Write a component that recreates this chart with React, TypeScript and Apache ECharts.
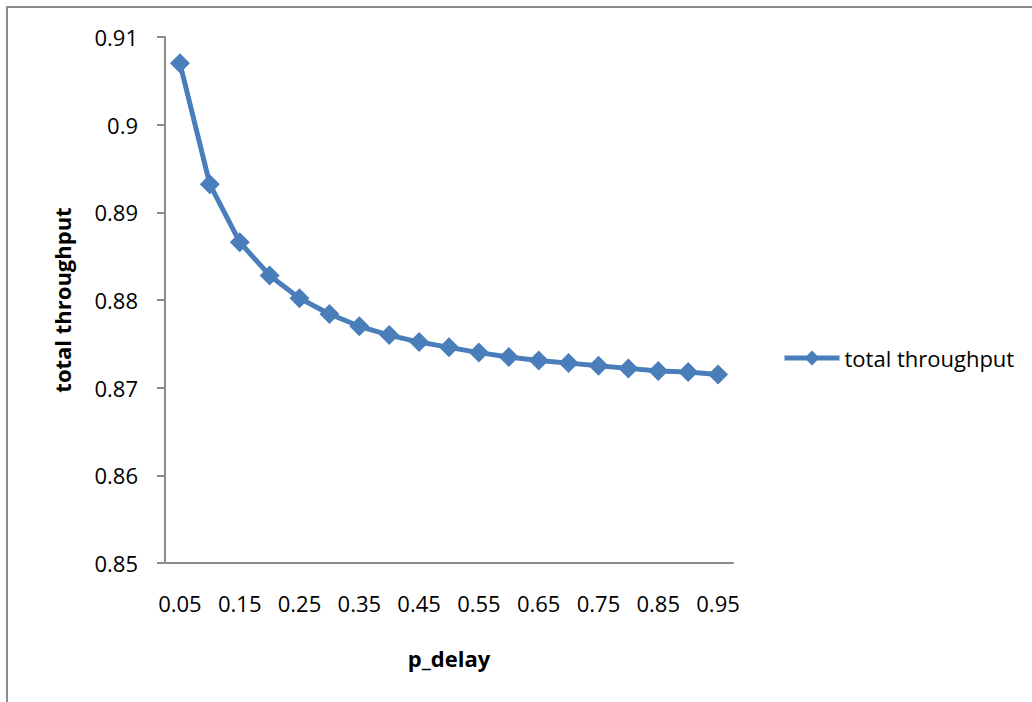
import React, { useEffect, useRef } from "react";
import * as echarts from "echarts";

const categories = ["0.05","0.1","0.15","0.2","0.25","0.3","0.35","0.4","0.45","0.5","0.55","0.6","0.65","0.7","0.75","0.8","0.85","0.9","0.95"];
const categoryLabels = ["0.05","0.10","0.15","0.20","0.25","0.30","0.35","0.40","0.45","0.50","0.55","0.60","0.65","0.70","0.75","0.80","0.85","0.90","0.95"];
const throughput = [0.9070,0.8932,0.8866,0.8828,0.8802,0.8784,0.8770,0.8760,0.8752,0.8746,0.8740,0.8735,0.8731,0.8728,0.8725,0.8722,0.8719,0.8718,0.8715];
const seriesName = "total throughput";
const xName = "p_delay";
const yName = "total throughput";

const FONT = "'Open Sans', sans-serif";
const BLUE = "#4a7ebb";

export default function App() {
  const ref = useRef<HTMLDivElement>(null);
  useEffect(() => {
    document.body.style.margin = "0";
    const chart = echarts.init(ref.current!, null, { renderer: "svg" });
    chart.setOption({
      animation: false,
      backgroundColor: "#ffffff",
      textStyle: { fontFamily: FONT },
      graphic: [
        {
          type: "rect",
          shape: { x: 7, y: 7, width: 1200, height: 900 },
          style: { fill: "none", stroke: "#8c8c8c", lineWidth: 2 },
          silent: true,
        },
      ],
      grid: { left: 165, top: 37, right: 299, bottom: 139 },
      legend: {
        left: 777,
        top: 342,
        itemWidth: 55,
        itemHeight: 19,
        itemGap: 5,
        lineStyle: { width: 5, color: BLUE },
        textStyle: { fontFamily: FONT, fontSize: 22, color: "#000" },
        data: [seriesName],
      },
      xAxis: {
        type: "category",
        data: categories,
        boundaryGap: true,
        name: xName,
        nameLocation: "middle",
        nameGap: 84,
        nameTextStyle: { fontFamily: FONT, fontSize: 22, fontWeight: "bold", color: "#000" },
        axisLine: { lineStyle: { color: "#8c8c8c", width: 2 } },
        axisTick: { show: false },
        axisLabel: {
          interval: 1,
          margin: 29,
          fontFamily: FONT,
          fontSize: 22,
          color: "#000",
          formatter: (v: string, i: number) => categoryLabels[i],
        },
        splitLine: { show: false },
      },
      yAxis: {
        type: "value",
        min: 0.85,
        max: 0.91,
        interval: 0.01,
        name: yName,
        nameLocation: "middle",
        nameGap: 92,
        nameTextStyle: { fontFamily: FONT, fontSize: 22, fontWeight: "bold", color: "#000" },
        axisLine: { show: true, lineStyle: { color: "#8c8c8c", width: 2 } },
        axisTick: { show: true, length: 8, lineStyle: { color: "#8c8c8c", width: 2 } },
        axisLabel: {
          margin: 27,
          fontFamily: FONT,
          fontSize: 22,
          color: "#000",
          formatter: (v: number) => String(parseFloat(v.toFixed(2))),
        },
        splitLine: { show: false },
      },
      series: [
        {
          name: seriesName,
          type: "line",
          data: throughput,
          symbol: "diamond",
          symbolSize: 20,
          showAllSymbol: true,
          lineStyle: { color: BLUE, width: 5 },
          itemStyle: { color: BLUE },
        },
      ],
    });
    return () => chart.dispose();
  }, []);
  return <div ref={ref} style={{ width: 1032, height: 702 }} />;
}
